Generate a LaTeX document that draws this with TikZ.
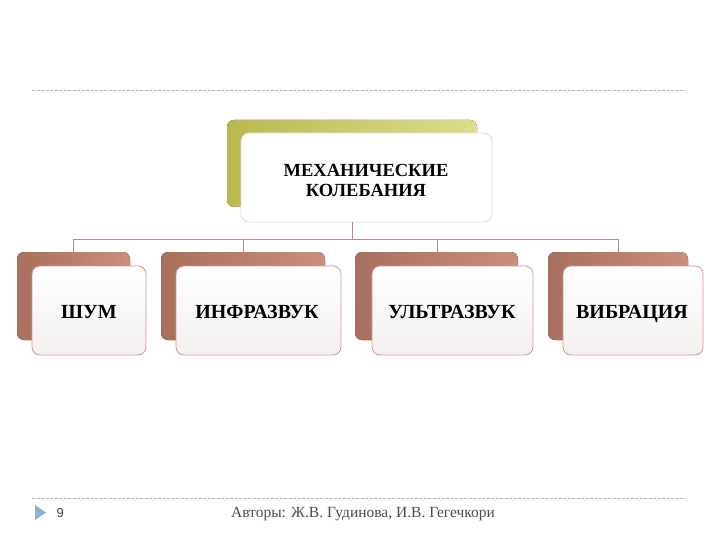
\documentclass[tikz,border=0pt]{standalone}
\usepackage{fontspec}
\setmainfont{Liberation Serif}
\newfontfamily\footsans{Liberation Sans}
\definecolor{olivedark}{HTML}{B9B94E}
\definecolor{olivelight}{HTML}{DCDD8C}
\definecolor{browndark}{HTML}{A8705C}
\definecolor{brownlight}{HTML}{C8907A}
\definecolor{frontfill}{HTML}{F3F0EF}
\definecolor{frontedge}{HTML}{D49494}
\definecolor{topedge}{HTML}{F0D2CC}
\definecolor{linkcol}{HTML}{B88A8A}
\definecolor{dashcol}{HTML}{B8B8B8}
\definecolor{arrowblue}{HTML}{8FB0CF}
\begin{document}
\begin{tikzpicture}[x=1pt,y=-1pt,
  backolive/.style={rounded corners=7pt,left color=olivedark,right color=olivelight,draw=none},
  backbrown/.style={rounded corners=7pt,left color=browndark,right color=brownlight,draw=none},
  frontbox/.style={rounded corners=8pt,draw=frontedge,line width=0.8pt,top color=white,bottom color=frontfill},
  topfront/.style={rounded corners=8pt,draw=topedge,line width=0.8pt,fill=white},
  lbl/.style={font=\fontsize{20}{22}\selectfont\bfseries,text=black,anchor=base},
  link/.style={draw=linkcol,line width=0.8pt},
  dashline/.style={draw=dashcol,line width=0.7pt,dash pattern=on 3pt off 1.5pt}]
\useasboundingbox (0,0) rectangle (720,540);
% dashed rules
\coordinate (tl) at (32,90); \coordinate (tr) at (686,90);
\coordinate (bl) at (32,498); \coordinate (br) at (686,498);
\draw[dashline] (tl) -- (tr);
\draw[dashline] (bl) -- (br);
% top box
\fill[backolive] (227,120) rectangle (477,207);
\path[topfront] (241,133) rectangle (492,222);
\node[font=\fontsize{18.5}{20}\selectfont\bfseries,align=center] (top) at (366,180) {МЕХАНИЧЕСКИЕ\\КОЛЕБАНИЯ};
\coordinate (topb) at (352,222);
% lower boxes
\fill[backbrown] (17,252) rectangle (130,340);
\path[frontbox] (32,266) rectangle (146,355);
\node[lbl] (n1) at (89,318) {ШУМ};
\fill[backbrown] (161,252) rectangle (325,340);
\path[frontbox] (176,266) rectangle (341,355);
\node[lbl] (n2) at (257,318) {ИНФРАЗВУК};
\fill[backbrown] (355,252) rectangle (518,340);
\path[frontbox] (372,266) rectangle (533,355);
\node[lbl] (n3) at (452,318) {УЛЬТРАЗВУК};
\fill[backbrown] (548,252) rectangle (688,340);
\path[frontbox] (563,266) rectangle (703,355);
\node[lbl] (n4) at (632,318) {ВИБРАЦИЯ};
% connectors
\coordinate (c1) at (73,252); \coordinate (c2) at (243,252);
\coordinate (c3) at (437,252); \coordinate (c4) at (618,252);
\draw[link] (topb) -- (352,239);
\draw[link] (c1) |- (c4 |- 0,239) -- (c4);
\draw[link] (c2) -- (243,239);
\draw[link] (c3) -- (437,239);
% footer
\fill[arrowblue] (35,505) -- (46,512.5) -- (35,520) -- cycle;
\node[font=\footsans\fontsize{13}{15}\selectfont,text=black!75,anchor=west] (pg) at (53,513) {9};
\node[font=\fontsize{15.5}{17}\selectfont,text=black!70] (auth) at (363,514) {Авторы: Ж.В. Гудинова, И.В. Гегечкори};
\end{tikzpicture}
\end{document}
